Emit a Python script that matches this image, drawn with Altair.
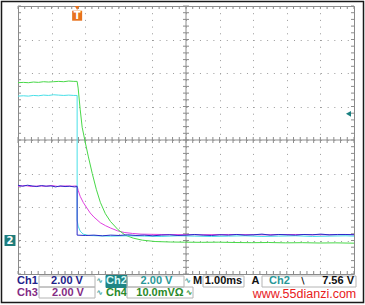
import altair as alt
import numpy as np
import pandas as pd

# ---------------- data (time in ms relative to trigger, value in divisions) ----------------
green_t = [-1.76, -1.6, -1.45, -1.3, -1.15, -1.0, -0.85, -0.7, -0.55, -0.4, -0.25, -0.1, 0.0,
           0.03, 0.09, 0.15, 0.24, 0.33, 0.45, 0.57, 0.69, 0.84, 0.99, 1.22, 1.43, 1.67, 1.94,
           2.32, 2.77, 3.2, 3.7, 4.2, 4.7, 5.2, 5.7, 6.2, 6.7, 7.2, 7.7, 8.24]
green_v = [5.71, 5.72, 5.71, 5.73, 5.72, 5.74, 5.73, 5.74, 5.75, 5.74, 5.76, 5.75, 5.75,
           5.55, 4.92, 4.38, 3.94, 3.52, 3.0, 2.53, 2.14, 1.80, 1.57, 1.32, 1.16, 1.07, 1.01,
           0.97, 0.955, 0.95, 0.945, 0.95, 0.94, 0.935, 0.94, 0.93, 0.935, 0.925, 0.93, 0.92]

cyan_t = [-1.76, -1.6, -1.45, -1.3, -1.15, -1.0, -0.85, -0.7, -0.55, -0.4, -0.25, -0.1, 0.0,
          0.0, 0.03, 0.09, 0.18, 0.33,
          0.6, 1.0, 1.5, 2.0, 2.5, 3.0, 3.5, 4.0, 4.5, 5.0, 5.5, 6.0, 6.5, 7.0, 7.5, 8.0, 8.24]
cyan_v = [5.31, 5.32, 5.31, 5.33, 5.32, 5.34, 5.33, 5.35, 5.34, 5.33, 5.34, 5.33, 5.33,
          1.61, 1.43, 1.28, 1.19, 1.15,
          1.14, 1.13, 1.14, 1.13, 1.12, 1.14, 1.13, 1.12, 1.13, 1.14, 1.12, 1.13, 1.14, 1.12, 1.13, 1.14, 1.13]

blue_t = [-1.76, -1.62, -1.48, -1.34, -1.2, -1.06, -0.92, -0.78, -0.64, -0.5, -0.36, -0.22, -0.08, 0.0,
          0.0, 0.25, 0.5, 0.75, 1.0, 1.25, 1.5, 1.75, 2.0, 2.25, 2.5, 2.75, 3.0, 3.25, 3.5, 3.75,
          4.0, 4.25, 4.5, 4.75, 5.0, 5.25, 5.5, 5.75, 6.0, 6.25, 6.5, 6.75, 7.0, 7.25, 7.5, 7.75,
          8.0, 8.24]
blue_v = [2.65, 2.62, 2.65, 2.63, 2.61, 2.64, 2.62, 2.63, 2.60, 2.63, 2.61, 2.62, 2.60, 2.61,
          1.16, 1.15, 1.16, 1.14, 1.16, 1.15, 1.17, 1.15, 1.16, 1.14, 1.16, 1.17, 1.15, 1.16,
          1.18, 1.16, 1.15, 1.17, 1.16, 1.18, 1.16, 1.17, 1.19, 1.16, 1.18, 1.17, 1.16, 1.18,
          1.17, 1.19, 1.17, 1.18, 1.18, 1.17]

magenta_t = [-1.76, -1.55, -1.35, -1.15, -0.95, -0.75, -0.55, -0.35, -0.15, 0.0,
             0.03, 0.09, 0.18, 0.27, 0.39, 0.5, 0.69, 0.85, 1.0, 1.2, 1.4, 1.65, 1.9,
             2.5, 3.5, 4.5, 5.5, 6.5, 7.5, 8.24]
magenta_v = [2.62, 2.64, 2.61, 2.63, 2.62, 2.64, 2.61, 2.63, 2.62, 2.63,
             2.50, 2.32, 2.14, 2.00, 1.82, 1.70, 1.53, 1.44, 1.37, 1.29, 1.24, 1.21, 1.19,
             1.18, 1.17, 1.18, 1.17, 1.18, 1.17, 1.18]

trigger_time = [0.0]       # ms
trigger_level = [4.78]     # div (Ch2 7.56 V)
ch2_ground = [1.0]         # div

# ---------------- layout ----------------
X0, Y0 = 18, 6
W, H = 336, 268
T_MIN, T_MAX = -1.76, 8.24

xs = alt.Scale(domain=[T_MIN, T_MAX], nice=False, zero=False)
ys = alt.Scale(domain=[0, 8], nice=False, zero=False)
ax_x = alt.Axis(values=[round(T_MIN + k, 2) for k in range(1, 10)], grid=True, gridDash=[1, 5.7],
                gridColor='#9a9a9a', gridOpacity=1, gridWidth=1, domain=False, ticks=False,
                labels=False, title="")
ax_y = alt.Axis(values=[1, 2, 3, 4, 5, 6, 7], grid=True, gridDash=[1, 5.72], gridColor='#9a9a9a',
                gridOpacity=1, gridWidth=1, domain=False, ticks=False, labels=False, title="")

GRID = '#8c8c8c'
one = pd.DataFrame({'a': [0]})


def trace(ts, vs, color):
    df = pd.DataFrame({'t': ts, 'v': vs, 'i': list(range(len(ts)))})
    return alt.Chart(df).mark_line(color=color, strokeWidth=1).encode(
        x=alt.X('t:Q', scale=xs, axis=ax_x),
        y=alt.Y('v:Q', scale=ys, axis=ax_y),
        order=alt.Order('i:Q'))


def label(txt, px, py, color, align='center', size=11, weight='bold', font='Liberation Sans',
          baseline='middle'):
    return alt.Chart(one).mark_text(text=txt, align=align, baseline=baseline, fontSize=size,
                                    fontWeight=weight, font=font, color=color).encode(
        x=alt.value(px - X0), y=alt.value(py - Y0))


def box(x1, y1, x2, y2, stroke='#b4b4b4', fill=None, sw=1):
    mk = dict(stroke=stroke, strokeWidth=sw)
    if fill:
        mk['fill'] = fill
        mk['fillOpacity'] = 1
    else:
        mk['fillOpacity'] = 0
    return alt.Chart(one).mark_rect(**mk).encode(
        x=alt.value(x1 - X0), x2=alt.value(x2 - X0), y=alt.value(y1 - Y0), y2=alt.value(y2 - Y0))


# graticule ticks
minor_t = np.round(np.linspace(T_MIN, T_MAX, 51), 3)
minor_v = np.round(np.linspace(0, 8, 41), 3)
dt = 3 / 33.6
dv = 3 / 33.5
t_mid = round((T_MIN + T_MAX) / 2, 3)
vt = pd.concat([
    pd.DataFrame({'t': minor_t, 'v1': 4 - dv, 'v2': 4 + dv}),
    pd.DataFrame({'t': minor_t, 'v1': 0.0, 'v2': dv}),
    pd.DataFrame({'t': minor_t, 'v1': 8 - dv, 'v2': 8.0}),
])
ht = pd.concat([
    pd.DataFrame({'v': minor_v, 't1': t_mid - dt, 't2': t_mid + dt}),
    pd.DataFrame({'v': minor_v, 't1': T_MIN, 't2': T_MIN + dt}),
    pd.DataFrame({'v': minor_v, 't1': T_MAX - dt, 't2': T_MAX}),
])

center_h = alt.Chart(pd.DataFrame({'v': [4.0]})).mark_rule(color=GRID, strokeWidth=1).encode(
    y=alt.Y('v:Q', scale=ys, axis=ax_y))
center_v = alt.Chart(pd.DataFrame({'t': [t_mid]})).mark_rule(color=GRID, strokeWidth=1).encode(
    x=alt.X('t:Q', scale=xs, axis=ax_x))
ticks_v = alt.Chart(vt).mark_rule(color=GRID, strokeWidth=1).encode(
    x=alt.X('t:Q', scale=xs, axis=ax_x), y=alt.Y('v1:Q', scale=ys, axis=ax_y), y2='v2:Q')
ticks_h = alt.Chart(ht).mark_rule(color=GRID, strokeWidth=1).encode(
    y=alt.Y('v:Q', scale=ys, axis=ax_y), x=alt.X('t1:Q', scale=xs, axis=ax_x), x2='t2:Q')

# markers
trig_df = pd.DataFrame({'t': trigger_time})
ORANGE = '#e8721c'
trig_tri = alt.Chart(trig_df).mark_point(shape='triangle-down', filled=True, size=22, color=ORANGE,
                                         opacity=1).encode(
    x=alt.X('t:Q', scale=xs, axis=ax_x), y=alt.value(2))
trig_box = alt.Chart(trig_df).mark_point(shape='square', filled=True, size=100, color=ORANGE,
                                         opacity=1).encode(
    x=alt.X('t:Q', scale=xs, axis=ax_x), y=alt.value(9.7))
trig_txt = alt.Chart(trig_df).mark_text(text='T', color='white', fontSize=10, fontWeight='bold',
                                        font='DejaVu Sans', baseline='middle').encode(
    x=alt.X('t:Q', scale=xs, axis=ax_x), y=alt.value(10.2))

lvl_df = pd.DataFrame({'v': trigger_level})
lvl_mark = alt.Chart(lvl_df).mark_point(shape='triangle-left', filled=True, size=34, color='#1a8080',
                                        opacity=1).encode(
    x=alt.value(330.5), y=alt.Y('v:Q', scale=ys, axis=ax_y))

gnd_df = pd.DataFrame({'v': ch2_ground})
gnd_box = alt.Chart(gnd_df).mark_point(shape='square', filled=True, size=120, color='#1e7d7d',
                                       opacity=1).encode(
    x=alt.value(-8), y=alt.Y('v:Q', scale=ys, axis=ax_y))
gnd_txt = alt.Chart(gnd_df).mark_text(text='2', color='white', fontSize=10, fontWeight='bold',
                                      font='DejaVu Sans', baseline='middle').encode(
    x=alt.value(-8), y=alt.Y('v:Q', scale=ys, axis=ax_y))

# status bar
R1, R2 = 281.2, 292.6
NAVY = '#22228a'
TEAL = '#2a9898'
PURP = '#842c84'
GRN = '#2a8a2a'
SYM = '#3aa0a0'
status = [
    label('Ch1', 17, R1, NAVY, align='left'),
    box(39, 276, 95, 287),
    label('2.00 V', 67, R1, NAVY),
    label('∿', 99.5, R1, SYM, size=8, font='DejaVu Sans'),
    box(106, 275.5, 127, 287.5, stroke='#1f8585', fill='#1f8585'),
    label('Ch2', 116.5, R1, '#d8f8f8'),
    box(127, 276, 184, 287),
    label('2.00 V', 156.5, R1, TEAL),
    label('∿', 187.5, R1, SYM, size=8, font='DejaVu Sans'),
    label('M', 197.5, R1, '#111111'),
    box(203, 276, 244, 287),
    label('1.00ms', 223.5, R1, '#111111'),
    label('A', 255.5, R1, '#111111'),
    box(262, 276, 356, 287),
    label('Ch2', 279.5, R1, TEAL),
    label('\\', 303, R1, '#111111', size=9, font='DejaVu Sans'),
    label('7.56 V', 354, R1, '#111111', align='right'),
    label('Ch3', 17, R2, PURP, align='left'),
    box(39, 287, 95, 298),
    label('2.00 V', 68, R2, PURP),
    label('∿', 99.5, R2, SYM, size=8, font='DejaVu Sans'),
    label('Ch4', 116.5, R2, GRN),
    box(127, 287, 193, 298),
    label('10.0mVΩ', 160, R2, GRN),
    label('∿', 189, R2, GRN, size=8, font='DejaVu Sans'),
    label('www.55dianzi.com', 304.5, 298, '#e8201c', size=12.5, weight='normal',
          baseline='alphabetic'),
    box(1.5, 1.5, 363.5, 302.5, stroke='#1a1a1a', sw=1.5),
]

layers = [
    center_h, center_v, ticks_v, ticks_h,
    trace(magenta_t, magenta_v, '#e040e0'),
    trace(green_t, green_v, '#48d848'),
    trace(cyan_t, cyan_v, '#48e0e8'),
    trace(blue_t, blue_v, '#2a2ac8'),
    trig_tri, trig_box, trig_txt, lvl_mark, gnd_box, gnd_txt,
] + status

chart = alt.layer(*layers).properties(
    width=W, height=H,
    padding={'left': X0, 'top': Y0, 'right': 365 - X0 - W, 'bottom': 305 - Y0 - H},
    autosize=alt.AutoSizeParams(type='none'),
    background='white',
).configure_view(stroke='#8a8a8a', strokeWidth=1)

chart.save("out.html", embed_options={"renderer": "svg", "actions": False})
